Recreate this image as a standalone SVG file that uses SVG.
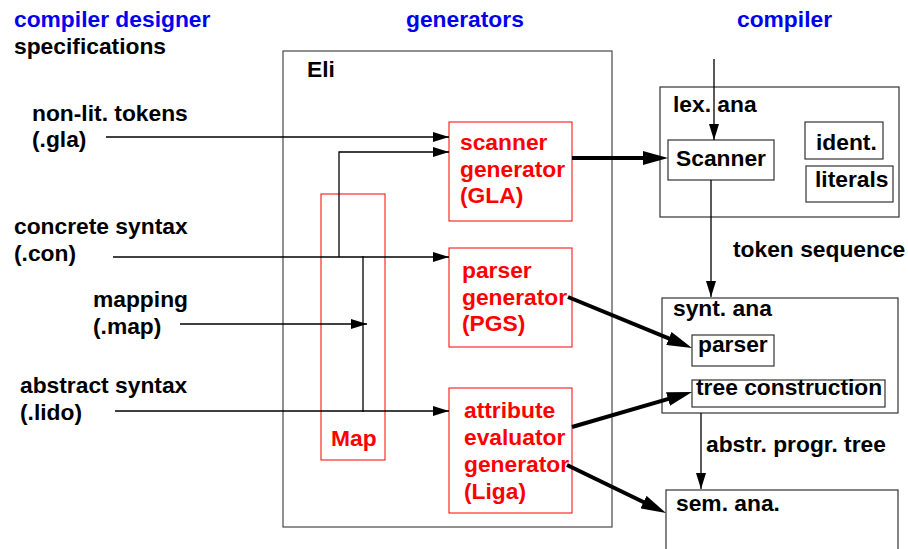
<svg xmlns="http://www.w3.org/2000/svg" width="908" height="549" viewBox="0 0 908 549">
<style>
text{font-family:"Liberation Sans",Arial,sans-serif;font-weight:bold;font-size:22.8px;fill:#000}
.blue{fill:#0000ee}
.red{fill:#ff0000}
.gen{fill:none;stroke:#ff0000;stroke-width:1}
.box{fill:none;stroke:#333;stroke-width:1.2}
.eli{fill:none;stroke:#555;stroke-width:1.3}
.thin{fill:none;stroke:#000;stroke-width:1.3}
.thick{fill:none;stroke:#000;stroke-width:4}
</style>
<defs>
<marker id="ah" markerUnits="userSpaceOnUse" viewBox="0 0 16 10" refX="16" refY="5" markerWidth="16" markerHeight="10" orient="auto"><path d="M0,0 L16,5 L0,10 z" fill="#000"/></marker>
<marker id="ahT" markerUnits="userSpaceOnUse" viewBox="0 0 25 14" refX="13" refY="7" markerWidth="25" markerHeight="14" orient="auto"><path d="M0,0 L25,7 L0,14 z" fill="#000"/></marker>
</defs>
<rect width="908" height="549" fill="#fff"/>
<g id="headers">
<text x="14" y="27" class="blue">compiler designer</text>
<text x="14" y="54">specifications</text>
<text x="406" y="27" class="blue">generators</text>
<text x="737" y="27" class="blue">compiler</text>
</g>
<g id="inputs">
<text x="32" y="121">non-lit. tokens</text>
<text x="32" y="147">(.gla)</text>
<text x="14" y="234">concrete syntax</text>
<text x="14" y="261">(.con)</text>
<text x="93" y="307">mapping</text>
<text x="93" y="334">(.map)</text>
<text x="20" y="393">abstract syntax</text>
<text x="20" y="420">(.lido)</text>
</g>
<g id="eli">
<rect x="283" y="51" width="329" height="476" class="eli"/>
<text x="307" y="77">Eli</text>
</g>
<g id="map">
<rect x="321" y="194" width="64" height="266" class="gen"/>
<text x="331" y="446" class="red">Map</text>
</g>
<g id="scanner-generator">
<rect x="449" y="122" width="123" height="99" class="gen"/>
<text x="460" y="150" class="red">scanner</text>
<text x="460" y="177" class="red">generator</text>
<text x="460" y="203" class="red">(GLA)</text>
</g>
<g id="parser-generator">
<rect x="449" y="248" width="123" height="99" class="gen"/>
<text x="462" y="278" class="red">parser</text>
<text x="462" y="305" class="red">generator</text>
<text x="462" y="331" class="red">(PGS)</text>
</g>
<g id="attribute-evaluator-generator">
<rect x="449" y="388" width="123" height="125" class="gen"/>
<text x="464" y="418" class="red">attribute</text>
<text x="464" y="445" class="red">evaluator</text>
<text x="464" y="472" class="red">generator</text>
<text x="464" y="499" class="red">(Liga)</text>
</g>
<g id="lex-ana">
<rect x="660" y="87" width="239" height="130" class="box"/>
<text x="673" y="112">lex. ana</text>
</g>
<g id="scanner">
<rect x="668" y="140" width="106" height="40" class="box"/>
<text x="676" y="166">Scanner</text>
</g>
<g id="ident">
<rect x="805" y="122" width="78" height="37" class="box"/>
<text x="816" y="150">ident.</text>
</g>
<g id="literals">
<rect x="806" y="166" width="87" height="36" class="box"/>
<text x="815" y="187">literals</text>
</g>
<g id="synt-ana">
<rect x="662" y="298" width="236" height="115" class="box"/>
<text x="673" y="316">synt. ana</text>
</g>
<g id="parser">
<rect x="692" y="335" width="82" height="31" class="box"/>
<text x="698" y="352">parser</text>
</g>
<g id="tree-construction">
<rect x="692" y="380" width="193" height="27" class="box"/>
<text x="696" y="395">tree construction</text>
</g>
<g id="sem-ana">
<rect x="666" y="490" width="232" height="80" class="box"/>
<text x="676" y="511">sem. ana.</text>
</g>
<g id="connectors">
<path d="M106,137 H449" class="thin" marker-end="url(#ah)"/>
<path d="M339,257 V152 H449" class="thin" marker-end="url(#ah)"/>
<path d="M113,257 H449" class="thin" marker-end="url(#ah)"/>
<path d="M363,256 V412" class="thin"/>
<path d="M180,324 H367" class="thin" marker-end="url(#ah)"/>
<path d="M115,411 H449" class="thin" marker-end="url(#ah)"/>
<path d="M714,59 V140" class="thin" marker-end="url(#ah)"/>
<path d="M711,180 V297" class="thin" marker-end="url(#ah)"/>
<path d="M701,413 V489" class="thin" marker-end="url(#ah)"/>
<path d="M572,158 H656" class="thick" marker-end="url(#ahT)"/>
<path d="M568,297 L680.9,343.4" class="thick" marker-end="url(#ahT)"/>
<path d="M572,427 L680.5,395.4" class="thick" marker-end="url(#ahT)"/>
<path d="M567,465 L655.2,507.8" class="thick" marker-end="url(#ahT)"/>
<text x="733" y="257">token sequence</text>
<text x="706" y="452">abstr. progr. tree</text>
</g>
</svg>
